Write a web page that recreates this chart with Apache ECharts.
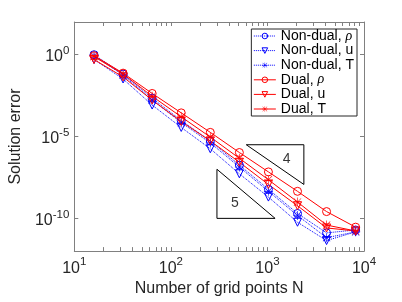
<!DOCTYPE html>
<html>
<head>
<meta charset="utf-8">
<script src="https://cdn.jsdelivr.net/npm/echarts@6/dist/echarts.min.js"></script>
<style>html,body{margin:0;padding:0;background:#fff}#c{width:402px;height:302px}</style>
</head>
<body>
<div id="c"></div>
<script>
// Grid sizes
const N = [16, 32, 64, 128, 256, 512, 1024, 2048, 4096, 8192];
// Solution errors
const nonDualRho = [1.0, 0.066, 0.0022, 9.5e-5, 5.4e-6, 1.8e-7, 6.0e-9, 2.0e-10, 1.3e-11, 1.95e-11];
const nonDualU   = [0.51, 0.033, 8.4e-4, 3.6e-5, 1.8e-6, 5.3e-8, 2.0e-9, 5.8e-11, 4.4e-12, 1.5e-11];
const nonDualT   = [0.87, 0.057, 0.0017, 7.2e-5, 4.1e-6, 1.37e-7, 4.5e-9, 1.5e-10, 6.6e-12, 1.5e-11];
const dualRho    = [0.87, 0.075, 0.0043, 2.8e-4, 1.8e-5, 1.06e-6, 6.9e-8, 4.5e-9, 2.6e-10, 2.9e-11];
const dualU      = [0.51, 0.044, 0.0017, 8.3e-5, 5.4e-6, 2.7e-7, 1.18e-8, 5.9e-10, 2.6e-11, 1.7e-11];
const dualT      = [0.76, 0.066, 0.0029, 1.6e-4, 9.3e-6, 4.7e-7, 2.3e-8, 1.0e-9, 3.9e-11, 1.7e-11];
// Slope triangles
const slope4 = [[604, 3.16e-6], [2384, 3.16e-6], [2384, 1.18e-8], [604, 3.16e-6]];
const slope5 = [[300, 1e-7], [300, 1e-10], [1200, 1e-10], [300, 1e-7]];
const slopeLabels = [[1585, 4.1e-7, '4'], [460, 8.9e-10, '5']];
// Tick values
const xLabelTicks = [10, 100, 1000, 10000];
const xAllTicks = [10,20,30,40,50,60,70,80,90,100,200,300,400,500,600,700,800,900,1000,2000,3000,4000,5000,6000,7000,8000,9000,10000];
const yTicks = [1e-10, 1e-5, 1];

const FONT = 'Liberation Sans';
const AX = '#808080';
const TXT = '#262626';

function zip(vals) { return N.map((n, i) => [n, vals[i]]); }
function powLabel(v) {
  const e = Math.round(Math.log10(v));
  return '{b|10}{s|' + e + '}';
}
const rich = {
  b: {fontSize: 16, fontFamily: FONT, color: TXT, verticalAlign: 'bottom', lineHeight: 20},
  s: {fontSize: 11.5, fontFamily: FONT, color: TXT, verticalAlign: 'top', lineHeight: 12}
};

const asterisk = 'path://M0 9.3L20 9.3L20 10.7L0 10.7Z M9.3 0L10.7 0L10.7 20L9.3 20Z M2.4 1.4L18.6 17.6L17.6 18.6L1.4 2.4Z M17.6 1.4L18.6 2.4L2.4 18.6L1.4 17.6Z';

function mk(name, vals, color, dotted, symbol) {
  const s = {
    name: name, type: 'line', data: zip(vals),
    xAxisIndex: 0, yAxisIndex: 0,
    color: color,
    lineStyle: {color: color, width: 1, type: dotted ? 'dotted' : 'solid'},
    symbolSize: 8,
    z: 3
  };
  if (symbol === 'circle') {
    s.symbol = 'circle';
    s.itemStyle = {color: 'rgba(0,0,0,0)', borderColor: color, borderWidth: 1};
  } else if (symbol === 'tri') {
    s.symbol = 'triangle';
    s.symbolRotate = 180;
    s.itemStyle = {color: 'rgba(0,0,0,0)', borderColor: color, borderWidth: 1};
  } else {
    s.symbol = asterisk;
    s.symbolSize = 9;
    s.itemStyle = {color: color, borderWidth: 0};
  }
  return s;
}

const names = ['Non-dual, ρ', 'Non-dual, u', 'Non-dual, T', 'Dual, ρ', 'Dual, u', 'Dual, T'];

const chart = echarts.init(document.getElementById('c'), null, {renderer: 'canvas'});
const axisCommon = {
  type: 'log', logBase: 10,
  axisLine: {show: true, onZero: false, lineStyle: {color: AX, width: 1}},
  splitLine: {show: false},
  minorTick: {show: false}
};
chart.setOption({
  animation: false,
  backgroundColor: '#fff',
  grid: {left: 59, right: 38, top: 22, bottom: 44, containLabel: false},
  xAxis: [
    Object.assign({}, axisCommon, {
      min: 10, max: 10000, position: 'bottom',
      name: 'Number of grid points N', nameLocation: 'middle', nameGap: 27,
      nameTextStyle: {fontSize: 16, fontFamily: FONT, color: TXT},
      axisTick: {show: true, inside: true, length: 4, lineStyle: {color: AX}, customValues: xAllTicks},
      axisLabel: {show: true, margin: 5, customValues: xLabelTicks, formatter: powLabel, rich: rich}
    }),
    Object.assign({}, axisCommon, {
      min: 10, max: 10000, position: 'top',
      axisTick: {show: true, inside: true, length: 4, lineStyle: {color: AX}, customValues: xAllTicks},
      axisLabel: {show: false}
    })
  ],
  yAxis: [
    Object.assign({}, axisCommon, {
      min: 1e-12, max: 100, position: 'left',
      name: 'Solution error', nameLocation: 'middle', nameGap: 48,
      nameTextStyle: {fontSize: 16, fontFamily: FONT, color: TXT},
      axisTick: {show: true, inside: true, length: 4, lineStyle: {color: AX}, customValues: yTicks},
      axisLabel: {show: true, margin: 5, customValues: yTicks, formatter: powLabel, rich: rich}
    }),
    Object.assign({}, axisCommon, {
      min: 1e-12, max: 100, position: 'right',
      axisTick: {show: true, inside: true, length: 4, lineStyle: {color: AX}, customValues: yTicks},
      axisLabel: {show: false}
    })
  ],
  legend: {
    data: names,
    orient: 'vertical', right: 45, top: 29,
    itemWidth: 22, itemHeight: 7, itemGap: 0.6,
    padding: [0, 3, 0, 2],
    borderColor: '#262626', borderWidth: 1, backgroundColor: '#fff',
    itemStyle: {borderWidth: 1},
    lineStyle: {width: 1},
    textStyle: {fontSize: 14, fontFamily: FONT, color: '#000', lineHeight: 14,
      rich: {r: {fontSize: 14, fontFamily: 'Liberation Serif', fontStyle: 'italic', color: '#000', lineHeight: 14}}},
    formatter: function (n) { return n.replace('ρ', '{r|ρ}'); }
  },
  series: [
    mk(names[0], nonDualRho, '#0000ff', true, 'circle'),
    mk(names[1], nonDualU, '#0000ff', true, 'tri'),
    mk(names[2], nonDualT, '#0000ff', true, 'star'),
    mk(names[3], dualRho, '#ff0000', false, 'circle'),
    mk(names[4], dualU, '#ff0000', false, 'tri'),
    mk(names[5], dualT, '#ff0000', false, 'star'),
    {type: 'line', data: slope4, symbol: 'none', silent: true, lineStyle: {color: '#000', width: 1}, z: 2},
    {type: 'line', data: slope5, symbol: 'none', silent: true, lineStyle: {color: '#000', width: 1}, z: 2},
    {type: 'scatter', data: slopeLabels.map(d => [d[0], d[1]]), symbolSize: 0, silent: true,
      label: {show: true, position: 'inside', fontSize: 14, fontFamily: FONT, color: '#000',
        formatter: p => slopeLabels[p.dataIndex][2]}}
  ]
});
</script>
</body>
</html>
